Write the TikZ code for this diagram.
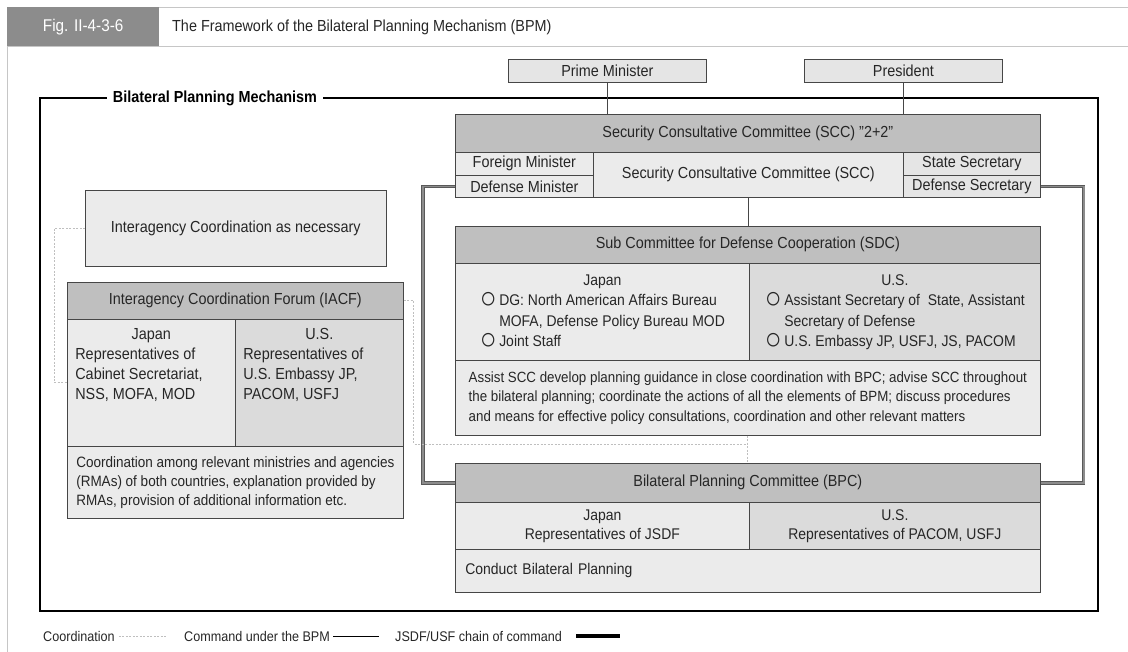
\documentclass[tikz,border=0pt]{standalone}
\usepackage{fontspec}
\setmainfont{Liberation Sans}[FakeStretch=0.9]

\newcommand{\ringmark}{\raisebox{-2.5pt}{\fontsize{31}{20}\selectfont ○}}

\tikzset{
  box/.style={draw=gray!55!black, line width=0.7pt, anchor=north west, inner sep=0pt, text=black!85},
  hd/.style={box, fill=gray!50},
  jp/.style={box, fill=gray!16},
  us/.style={box, fill=gray!28},
  link/.style={draw=gray!55!black, line width=0.8pt},
  coord/.style={draw=gray!50, line width=0.8pt, dash pattern=on 2pt off 1.5pt},
  chain/.style={draw=gray!70!black, double=gray!90, double distance=1.6pt, line width=0.9pt},
}

\begin{document}
\begin{tikzpicture}[x=1pt, y=-1pt, font=\fontsize{16}{20}\selectfont]
\useasboundingbox (0,0) rectangle (1128,652);
% page frame and title
\draw[gray!45] (1128,7) -- (7,7) -- (7,652);
\draw[gray!45] (7,46) -- (1128,46);
\node[anchor=north west, fill=gray!90, minimum width=152, minimum height=39, inner sep=0pt, text=white, font=\fontsize{17}{20}\selectfont] (fig) at (7,7) {Fig. II-4-3-6};
\node[anchor=west, inner sep=0pt, text=black!85] (title) at (172,27) {The Framework of the Bilateral Planning Mechanism (BPM)};

% mechanism frame
\draw[line width=1.2pt] (40,98) rectangle (1098,611);
\node[fill=white, inner xsep=6pt, font=\fontsize{16}{18}\selectfont\bfseries] (bpm) at (215,98) {Bilateral Planning Mechanism};

% leaders and SCC
\node[jp, fill=gray!20, minimum width=198, minimum height=23] (pm) at (508,59) {Prime Minister};
\node[jp, fill=gray!20, minimum width=198, minimum height=23] (pres) at (804,59) {President};
\node[hd, minimum width=585, minimum height=38] (scc) at (455,114) {Security Consultative Committee (SCC) "2+2"};
\node[jp, minimum width=138, minimum height=23] (fmin) at (455,152) {Foreign Minister};
\node[jp, minimum width=138, minimum height=22] (dmin) at (455,175) {Defense Minister};
\node[jp, minimum width=310, minimum height=45] (sccm) at (593,152) {Security Consultative Committee (SCC)};
\node[jp, fill=gray!20, minimum width=137, minimum height=23] (ssec) at (903,152) {State Secretary};
\node[jp, fill=gray!20, minimum width=137, minimum height=22] (dsec) at (903,175) {Defense Secretary};

% SDC
\node[hd, minimum width=585, minimum height=37] (sdc) at (455,226) {Sub Committee for Defense Cooperation (SDC)};
\node[jp, minimum width=294, minimum height=97, font=\fontsize{15.5}{20.5}\selectfont] (sdcj) at (455,263) {\begin{tabular}{@{}l@{\,}l@{}}
  \multicolumn{2}{c}{Japan}\\
  \ringmark&DG: North American Affairs Bureau\\
  &MOFA, Defense Policy Bureau MOD\\
  \ringmark&Joint Staff\end{tabular}};
\node[us, minimum width=291, minimum height=97, font=\fontsize{15.5}{20.5}\selectfont] (sdcu) at (749,263) {\begin{tabular}{@{}l@{\,}l@{}}
  \multicolumn{2}{c}{U.S.}\\
  \ringmark&Assistant Secretary of\ \ State, Assistant\\
  &Secretary of Defense\\
  \ringmark&U.S. Embassy JP, USFJ, JS, PACOM\end{tabular}};
\node[jp, minimum width=585, minimum height=75, font=\fontsize{14.8}{19.5}\selectfont] (sdcd) at (455,360) {\begin{tabular}{@{}l@{}}
  Assist SCC develop planning guidance in close coordination with BPC; advise SCC throughout\\
  the bilateral planning; coordinate the actions of all the elements of BPM; discuss procedures\\
  and means for effective policy consultations, coordination and other relevant matters\end{tabular}};

% BPC
\node[hd, minimum width=585, minimum height=39] (bpc) at (455,463) {Bilateral Planning Committee (BPC)};
\node[jp, minimum width=294, minimum height=47, align=center, font=\fontsize{15.5}{19}\selectfont] (bpcj) at (455,502) {Japan\\Representatives of JSDF};
\node[us, minimum width=291, minimum height=47, align=center, font=\fontsize{15.5}{19}\selectfont] (bpcu) at (749,502) {U.S.\\Representatives of PACOM, USFJ};
\node[jp, minimum width=585, minimum height=43, text width=565, align=left, font=\fontsize{15.5}{19}\selectfont] (bpcd) at (455,549) {Conduct Bilateral Planning};

% IACF
\node[jp, minimum width=301, minimum height=76] (iac) at (85,190) {Interagency Coordination as necessary};
\node[hd, minimum width=336, minimum height=37] (iacf) at (67,282) {Interagency Coordination Forum (IACF)};
\node[jp, minimum width=168, minimum height=127] (iacfj) at (67,319) {\parbox[c][109pt][t]{152pt}{{\centering Japan\par}\raggedright Representatives of\\Cabinet Secretariat,\\NSS, MOFA, MOD}};
\node[us, minimum width=168, minimum height=127] (iacfu) at (235,319) {\parbox[c][109pt][t]{152pt}{{\centering U.S.\par}\raggedright Representatives of\\U.S. Embassy JP,\\PACOM, USFJ}};
\node[jp, minimum width=336, minimum height=72, font=\fontsize{15}{19}\selectfont] (iacfd) at (67,446) {\begin{tabular}{@{}l@{}}
  Coordination among relevant ministries and agencies\\
  (RMAs) of both countries, explanation provided by\\
  RMAs, provision of additional information etc.\end{tabular}};

% command lines
\draw[link] (pm.south) -- (pm.south |- scc.north);
\draw[link] (pres.south) -- (pres.south |- scc.north);
\draw[link] (sccm.south) -- (sccm.south |- sdc.north);
\draw[chain] (dmin.west) -- ++(-32,0) |- (bpc.west);
\draw[chain] (dsec.east) -- ++(43,0) |- (bpc.east);

% coordination lines
\coordinate (cj) at (747.5,444);
\draw[coord] (iac.west) -- ++(-31,0) |- (iacfj.west);
\draw[coord] (iacf.east) -- ++(10,0) |- (cj);
\draw[coord] (sdcd.south) -- (bpc.north);

% legend
\node[anchor=west, inner sep=0pt, text=black!85, font=\fontsize{14}{16}\selectfont] (lgcoord) at (43,636) {Coordination};
\node[anchor=west, inner sep=0pt, text=black!85, font=\fontsize{14}{16}\selectfont] (lgcmd) at (184,636) {Command under the BPM};
\node[anchor=west, inner sep=0pt, text=black!85, font=\fontsize{14}{16}\selectfont] (lgchain) at (395,636) {JSDF/USF chain of command};
\coordinate (lgend) at (620,636);
\draw[coord] ([xshift=4pt]lgcoord.east) -- ([xshift=-18pt]lgcmd.west);
\draw[link, black] ([xshift=3pt]lgcmd.east) -- ([xshift=-16pt]lgchain.west);
\draw[line width=3.5pt] ([xshift=14pt]lgchain.east) -- (lgend);
\end{tikzpicture}
\end{document}
